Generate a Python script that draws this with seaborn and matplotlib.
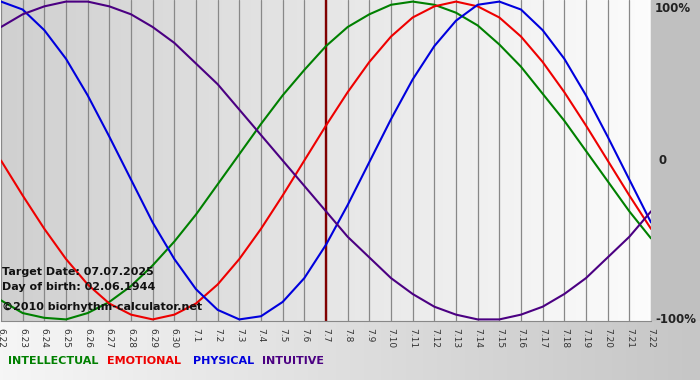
import numpy as np
import pandas as pd
import matplotlib
matplotlib.use("Agg")
import matplotlib.pyplot as plt
from matplotlib.colors import LinearSegmentedColormap
import seaborn as sns

# ================= DATA =================
day_labels = ["6.22", "6.23", "6.24", "6.25", "6.26", "6.27", "6.28", "6.29", "6.30",
              "7.1", "7.2", "7.3", "7.4", "7.5", "7.6", "7.7", "7.8", "7.9", "7.10",
              "7.11", "7.12", "7.13", "7.14", "7.15", "7.16", "7.17", "7.18", "7.19",
              "7.20", "7.21", "7.22"]

intellectual = [-88, -96, -99, -100, -96, -89, -79, -66, -51, -34, -15, 4, 23, 41, 57, 72,
                84, 92, 98, 100, 98, 93, 85, 73, 59, 42, 25, 6, -13, -32, -49]
emotional = [0, -22, -43, -62, -78, -90, -97, -100, -97, -90, -78, -62, -43, -22, 0, 22,
             43, 62, 78, 90, 97, 100, 97, 90, 78, 62, 43, 22, 0, -22, -43]
physical = [100, 95, 82, 64, 41, 15, -12, -39, -62, -81, -94, -100, -98, -89, -74, -53,
            -28, -1, 26, 51, 72, 88, 98, 100, 95, 82, 64, 41, 15, -12, -39]
intuitive = [84, 92, 97, 100, 100, 97, 92, 84, 74, 61, 48, 32, 16, 0, -16, -32, -48, -61,
             -74, -84, -92, -97, -100, -100, -97, -92, -84, -74, -61, -48, -32]

rhythms = ["INTELLECTUAL", "EMOTIONAL", "PHYSICAL", "INTUITIVE"]
colors = {"INTELLECTUAL": "#008000", "EMOTIONAL": "#ee0000",
          "PHYSICAL": "#0000dd", "INTUITIVE": "#4b0082"}
target_label = "7.7"
y_labels = ["100%", "0", "-100%"]
y_values = [100, 0, -100]

df = pd.DataFrame({
    "day": list(range(len(day_labels))) * 4,
    "value": intellectual + emotional + physical + intuitive,
    "rhythm": np.repeat(rhythms, len(day_labels)),
})

# ================= FIGURE =================
sns.set_style("white")
plt.rcParams["font.family"] = ["DejaVu Sans"]

W, H = 700, 380
fig = plt.figure(figsize=(7, 3.8), dpi=100)

# background: bottom strip gradient + grey right margin
bg = fig.add_axes([0, 0, 1, 1], zorder=-5)
bg_cmap = LinearSegmentedColormap.from_list("bg", ["#f6f6f6", "#c6c6c6"])
bg.imshow(np.linspace(0, 1, 200)[None, :], cmap=bg_cmap, aspect="auto",
          extent=(0, 1, 0, 1))
bg.axvspan(651 / W, 1, ymin=1 - 321 / H, ymax=1, color="#c0c0c0", lw=0)
bg.set_xlim(0, 1)
bg.set_ylim(0, 1)
bg.axis("off")

ax = fig.add_axes([1 / W, 1 - 321 / H, 650 / W, 321 / H])
plot_cmap = LinearSegmentedColormap.from_list("plot", ["#d0d0d0", "#fcfcfc"])
n = len(day_labels) - 1
ax.imshow(np.linspace(0, 1, 200)[None, :], cmap=plot_cmap, aspect="auto",
          extent=(0, n, -101, 101), zorder=0)

sns.lineplot(data=df, x="day", y="value", hue="rhythm", hue_order=rhythms,
             palette=colors, legend=False, lw=1.5, sort=False, ax=ax, zorder=3)

ax.axvline(day_labels.index(target_label), color="#800000", lw=1.7, zorder=2)

ax.set_xlim(0, n)
ax.set_ylim(-101, 101)
ax.set_xticks(range(len(day_labels)))
ax.set_xticklabels(day_labels, rotation=270, fontsize=6.5, color="#333333")
ax.set_yticks([])
ax.grid(axis="x", color="#888888", lw=0.9, zorder=1)
ax.set_axisbelow(True)
ax.tick_params(axis="x", direction="out", length=4, width=0.8, color="#888888", pad=1)
ax.set_xlabel("")
ax.set_ylabel("")
for side in ["top", "left", "right"]:
    ax.spines[side].set_visible(False)
ax.spines["bottom"].set_color("#888888")
ax.spines["bottom"].set_linewidth(0.8)

# right side percent labels
ytrans = ax.get_yaxis_transform()
ax.text(1.006, 100, y_labels[0], transform=ytrans, ha="left", va="top",
        fontsize=8.5, fontweight="bold", color="#222222", clip_on=False)
ax.text(1.012, y_values[1], y_labels[1], transform=ytrans, ha="left", va="center",
        fontsize=8.5, fontweight="bold", color="#222222", clip_on=False)
ax.text(1.006, y_values[2], y_labels[2], transform=ytrans, ha="left", va="center",
        fontsize=8.5, fontweight="bold", color="#222222", clip_on=False)

# info text
info = ["Target Date: 07.07.2025", "Day of birth: 02.06.1944",
        "\u00a92010 biorhythm-calculator.net"]
for txt, ypx in zip(info, [272, 287, 307]):
    fig.text(2 / W, 1 - ypx / H, txt, ha="left", va="center", fontsize=8,
             fontweight="bold", color="#111111", zorder=10)

# legend words
for name, xpx in zip(rhythms, [8, 107, 193, 262]):
    fig.text(xpx / W, 1 - 361 / H, name, ha="left", va="center", fontsize=8,
             fontweight="bold", color=colors[name])

plt.savefig("out.png", dpi=100)
